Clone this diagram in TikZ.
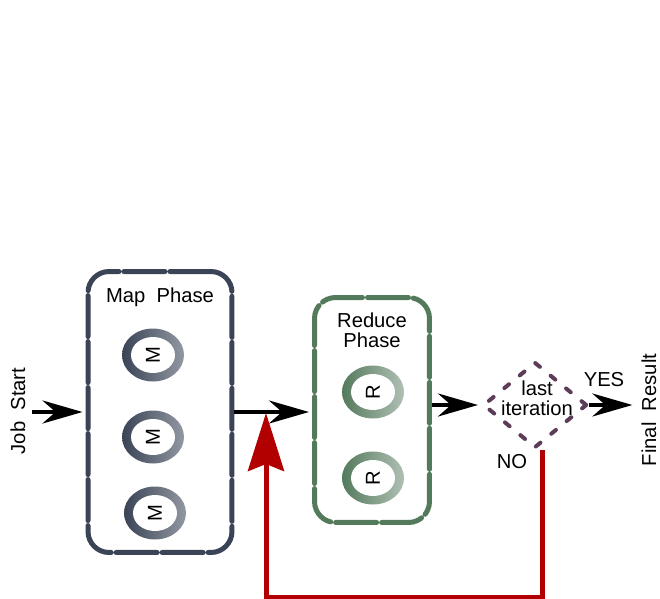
\documentclass[tikz,border=0pt]{standalone}
\usepackage{fontspec}
\setmainfont{Liberation Sans}
\usetikzlibrary{arrows.meta,shapes.geometric}

\definecolor{mapgray}{RGB}{58,68,86}
\definecolor{maplight}{RGB}{146,152,162}
\definecolor{redgreen}{RGB}{84,122,92}
\definecolor{redlight}{RGB}{176,192,180}
\definecolor{iterpurple}{RGB}{92,60,88}
\definecolor{loopred}{RGB}{178,0,0}

\begin{document}
\begin{tikzpicture}[x=0.02cm, y=-0.02cm,
    font=\fontsize{11.5}{11.4}\selectfont,
    phase/.style={rectangle, rounded corners=0.42cm, line width=0.1cm, line cap=round,
        dash pattern=on 0.82cm off 0.1cm, inner sep=0},
    task/.style={ellipse, inner sep=0, minimum width=1.24cm, minimum height=1.06cm,
        path picture={\fill[white] (path picture bounding box.center) ellipse (0.44cm and 0.36cm);}},
    flow/.style={line width=0.08cm, shorten >=0.06cm,
        -{Stealth[length=0.8cm, width=0.46cm, inset=0.26cm]}}]

    \useasboundingbox (0,0) rectangle (660,599);

    % map phase
    \node[phase, draw=mapgray, minimum width=2.88cm, minimum height=5.62cm] (map) at (160,412) {};
    \node (maptitle) at (160,297) {Map~ Phase};
    \node[task, left color=mapgray, right color=maplight] (m1) at (153,355) {\rotatebox{90}{M}};
    \node[task, left color=mapgray, right color=maplight] (m2) at (153,437) {\rotatebox{90}{M}};
    \node[task, left color=mapgray, right color=maplight] (m3) at (155,513) {\rotatebox{90}{M}};

    % reduce phase
    \node[phase, draw=redgreen, minimum width=2.3cm, minimum height=4.5cm] (reduce) at (372,410) {};
    \node[align=center] (redtitle) at (372,330) {Reduce\\Phase};
    \node[task, left color=redgreen, right color=redlight] (r1) at (373,392) {\rotatebox{90}{R}};
    \node[task, left color=redgreen, right color=redlight] (r2) at (373,478) {\rotatebox{90}{R}};

    % test
    \node[diamond, draw=iterpurple, line width=0.08cm, line cap=round, dash pattern=on 0.12cm off 0.28cm,
          minimum width=2.08cm, minimum height=1.72cm, inner sep=0] (last) at (535,405) {};
    \node[align=center] (lasttext) at (537,398) {last\\iteration};

    \node[rotate=90] (start) at (18,411) {Job~ Start};
    \node[rotate=90] (result) at (649,410) {Final~ Result};
    \node (yes) at (604,380) {YES};
    \node (no) at (512,462) {NO};
    \coordinate (merge) at (266,413);

    \draw[flow] (start.south |- map.west) -- (map.west);
    \draw[flow] (map.east) -- (map.east -| reduce.west);
    \draw[flow] (reduce.east |- last.west) -- (last.west);
    \draw[flow] (last.east) -- (last.east -| result.north);
    \draw[loopred, line width=0.1cm, -{Stealth[length=1.16cm, width=0.72cm, inset=0.14cm]}]
        ([xshift=0.14cm]last.south) -- ++(0,148) -| (merge);
\end{tikzpicture}
\end{document}
